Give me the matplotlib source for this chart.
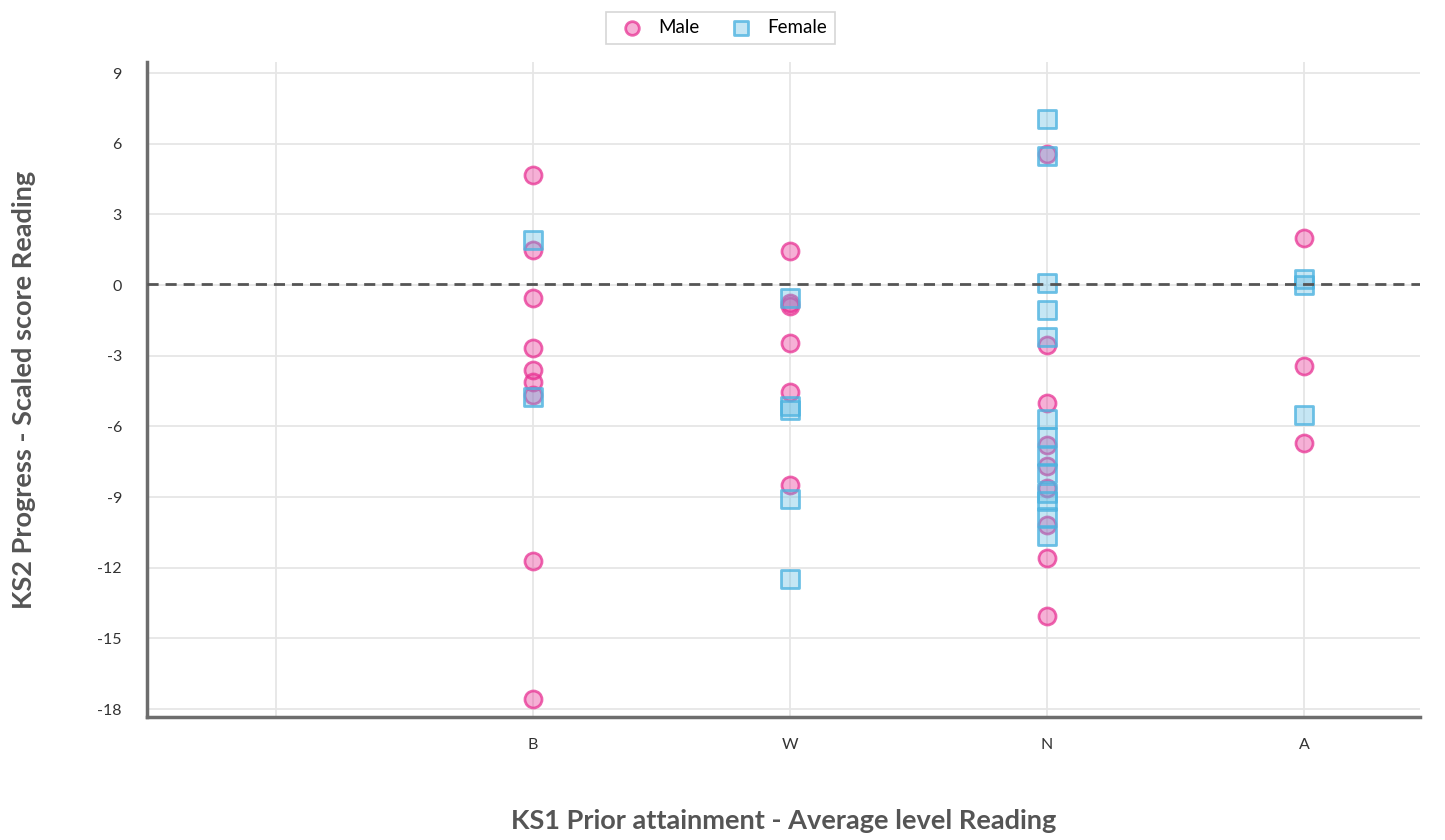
import matplotlib.pyplot as plt

# Category axis: first slot is empty
CATEGORIES = ["", "B", "W", "N", "A"]

MALE_X = ["B"] * 9 + ["W"] * 6 + ["N"] * 9 + ["A"] * 3
MALE_Y = [
    4.66, 1.48, -0.55, -2.67, -3.6, -4.1, -4.66, -11.72, -17.58,
    1.45, -0.75, -0.88, -2.46, -4.56, -8.47,
    5.55, -2.54, -5.0, -6.8, -7.7, -8.6, -10.2, -11.6, -14.07,
    1.98, -3.42, -6.7,
]

FEMALE_X = ["B"] * 2 + ["W"] * 5 + ["N"] * 13 + ["A"] * 3
FEMALE_Y = [
    1.9, -4.75,
    -0.55, -5.15, -5.3, -9.1, -12.5,
    7.05, 5.47, 0.07, -1.06, -2.2, -5.67, -6.46, -7.24, -7.97, -8.85,
    -9.15, -9.86, -10.66,
    0.25, 0.0, -5.5,
]

AVERAGE = 0.05

plt.rcParams["font.family"] = ["Lato", "DejaVu Sans"]
plt.rcParams["axes.unicode_minus"] = False

fig = plt.figure(figsize=(14.45, 8.4), dpi=100)
ax = fig.add_axes([0.1017, 0.1464, 0.881, 0.7798])

pos = {c: i for i, c in enumerate(CATEGORIES)}

ax.scatter([pos[c] for c in MALE_X], MALE_Y, s=150, marker="o",
           facecolor=(0.91, 0.12, 0.55, 0.35), edgecolor=(0.91, 0.2, 0.58, 0.75),
           linewidth=2, label="Male", zorder=3)
ax.scatter([pos[c] for c in FEMALE_X], FEMALE_Y, s=150, marker="s",
           facecolor=(0.35, 0.72, 0.88, 0.35), edgecolor=(0.3, 0.7, 0.88, 0.8),
           linewidth=2, label="Female", zorder=3)

ax.axhline(AVERAGE, color="#555555", linestyle=(0, (4, 2.5)), linewidth=2, zorder=4)

ax.set_xlim(-0.5, 4.45)
ax.set_ylim(-18.34, 9.47)
ax.set_xticks(range(len(CATEGORIES)))
ax.set_xticklabels(CATEGORIES)
ax.set_yticks(range(-18, 10, 3))
ax.grid(True, color="#e6e6e6", linewidth=1.3, zorder=0)
ax.set_axisbelow(True)
ax.tick_params(length=0, labelsize=11.5, colors="#333333")
ax.tick_params(axis="y", pad=18)
ax.tick_params(axis="x", pad=15)

for side in ("top", "right"):
    ax.spines[side].set_visible(False)
for side in ("left", "bottom"):
    ax.spines[side].set_color("#6d6d6d")
    ax.spines[side].set_linewidth(2.5)

ax.set_xlabel("KS1 Prior attainment - Average level Reading", fontsize=19.5,
              fontweight="bold", color="#555555", labelpad=41)
ax.set_ylabel("KS2 Progress - Scaled score Reading", fontsize=19.5,
              fontweight="bold", color="#555555", labelpad=44)

leg = fig.legend(loc="upper center", bbox_to_anchor=(0.4985, 0.997), ncol=2,
                 fontsize=13.5, frameon=True, fancybox=False, edgecolor="#cccccc",
                 handletextpad=0.4, columnspacing=1.2, borderpad=0.4,
                 markerscale=0.8)
leg.get_frame().set_linewidth(1.2)

fig.savefig("out.png", dpi=100)
